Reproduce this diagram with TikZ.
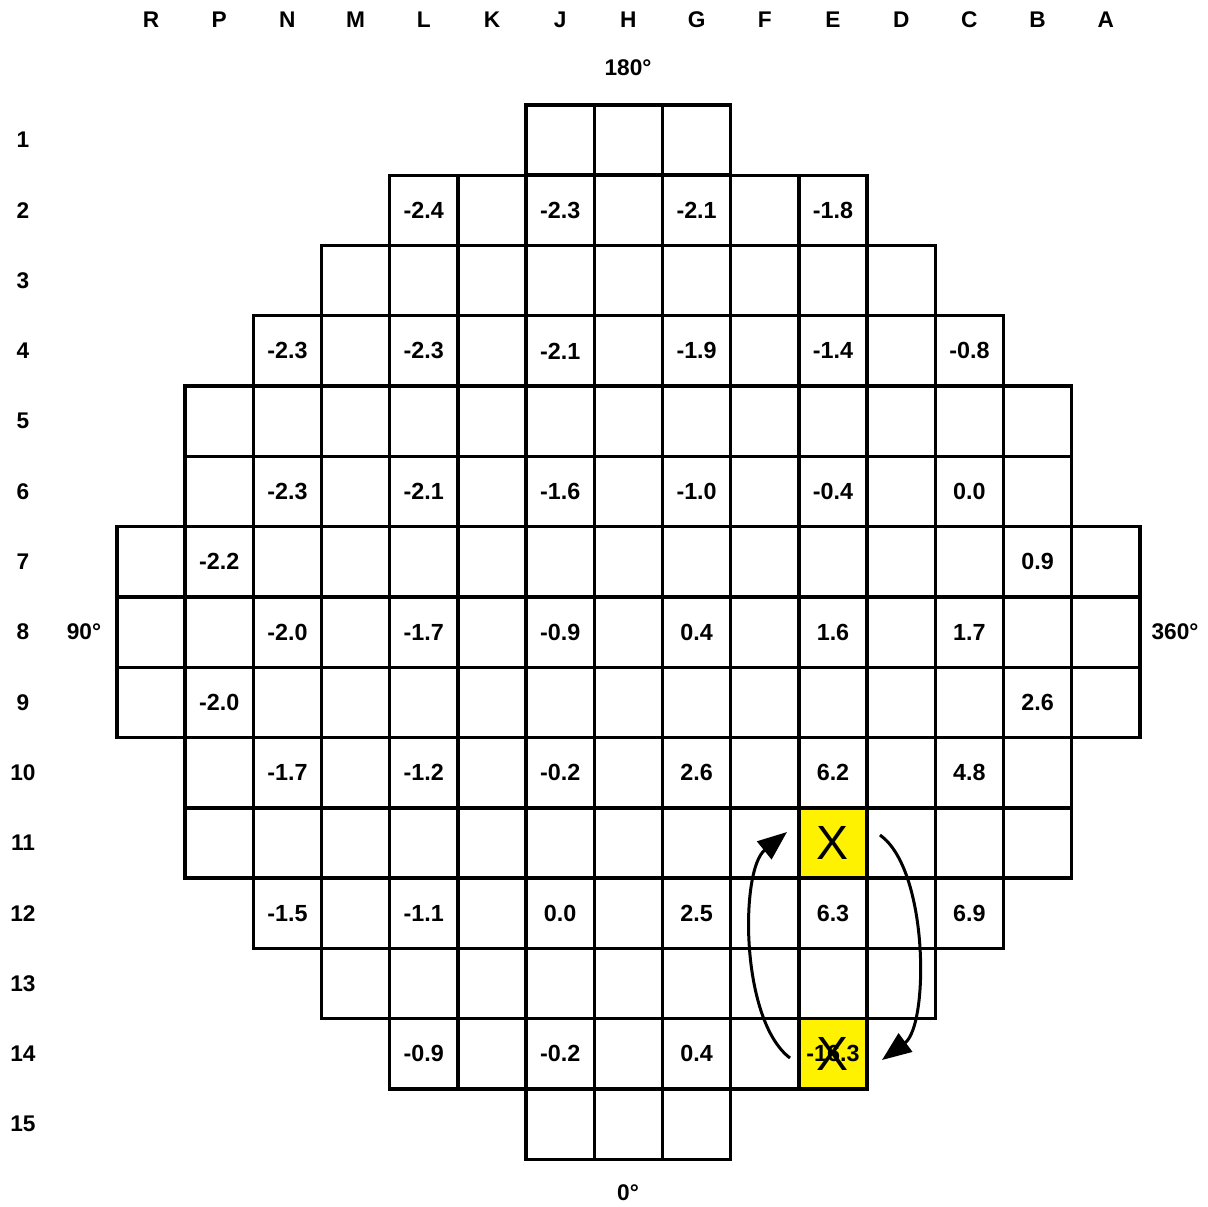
\documentclass[tikz,border=0pt]{standalone}
\usepackage{fontspec}
\setmainfont{Liberation Sans}
\usetikzlibrary{arrows.meta}
\begin{document}
\begin{tikzpicture}[x=0.75pt,y=-0.75pt,
  cell/.style={draw,line width=2.5pt,minimum width=51.15pt,minimum height=52.7pt,inner sep=0pt,outer sep=0pt},
  hot/.style={cell,fill=yellow},
  val/.style={font=\fontsize{17.5}{20}\selectfont\bfseries,inner sep=0pt},
  lbl/.style={font=\fontsize{17}{20}\selectfont\bfseries,inner sep=0pt},
  xmark/.style={font=\fontsize{36}{40}\selectfont,inner sep=0pt},
  swaparrow/.style={line width=2.25pt,-{Triangle[length=22pt,width=17pt]}}]
\useasboundingbox (0,0) rectangle (1208,1207);
% column letters
\foreach \L [count=\i from 0] in {R,P,N,M,L,K,J,H,G,F,E,D,C,B,A}
  \node[lbl] (col-\L) at ({151+\i*68.2},20) {\L};
% row numbers
\foreach \r in {1,...,15}
  \node[lbl] (row-\r) at (23,{140+(\r-1)*70.3}) {\r};
% cells
\foreach \r/\lo/\hi in {1/6/8,2/4/10,3/3/11,4/2/12,5/1/13,6/1/13,7/0/14,8/0/14,9/0/14,10/1/13,11/1/13,12/2/12,13/3/11,14/4/10,15/6/8}
  \foreach \c in {\lo,...,\hi}
    \node[cell] (c-\c-\r) at ({151+\c*68.2},{140+(\r-1)*70.3}) {};
\node[hot] (E11) at (c-10-11) {};
\node[hot] (E14) at (c-10-14) {};
% values
\foreach \c/\r/\v in {4/2/-2.4,6/2/-2.3,8/2/-2.1,10/2/-1.8,
  2/4/-2.3,4/4/-2.3,6/4/-2.1,8/4/-1.9,10/4/-1.4,12/4/-0.8,
  2/6/-2.3,4/6/-2.1,6/6/-1.6,8/6/-1.0,10/6/-0.4,12/6/0.0,
  1/7/-2.2,13/7/0.9,
  2/8/-2.0,4/8/-1.7,6/8/-0.9,8/8/0.4,10/8/1.6,12/8/1.7,
  1/9/-2.0,13/9/2.6,
  2/10/-1.7,4/10/-1.2,6/10/-0.2,8/10/2.6,10/10/6.2,12/10/4.8,
  2/12/-1.5,4/12/-1.1,6/12/0.0,8/12/2.5,10/12/6.3,12/12/6.9,
  4/14/-0.9,6/14/-0.2,8/14/0.4,10/14/-16.3}
  \node[val] (v-\c-\r) at (c-\c-\r) {\v};
\node[xmark] (x11) at (E11) {X};
\node[xmark] (x14) at (E14) {X};
% angle labels
\node[lbl] (a180) at (628,68) {180°};
\node[lbl] (a0) at (628,1193) {0°};
\node[lbl] (a90) at (84,632) {90°};
\node[lbl] (a360) at (1175,632) {360°};
% arrows
\coordinate (la) at (790,1058);
\coordinate (lb) at (787,832);
\coordinate (ra) at (880,835);
\coordinate (rb) at (882,1060);
\draw[swaparrow] (la) .. controls (740,1020) and (740,870) .. (lb);
\draw[swaparrow] (ra) .. controls (929,870) and (929,1025) .. (rb);
\end{tikzpicture}
\end{document}
